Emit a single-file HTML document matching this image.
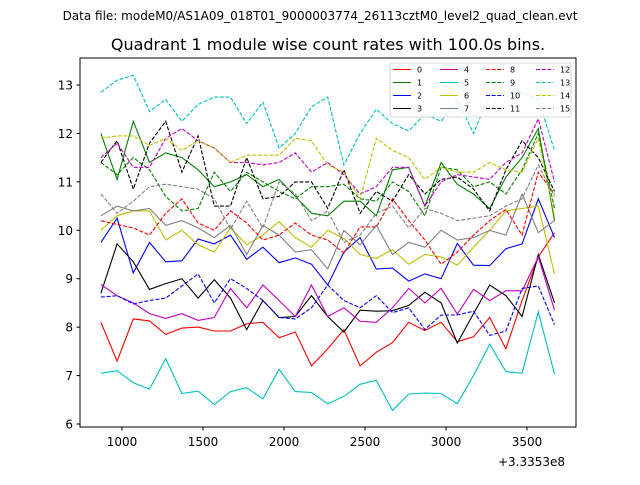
<!DOCTYPE html>
<html><head><meta charset="utf-8"><style>
body{margin:0;background:#fff}
svg text{font-family:"DejaVu Sans","Liberation Sans",sans-serif}
</style></head><body>
<svg id="chart" width="640" height="480" xmlns="http://www.w3.org/2000/svg">
<rect width="640" height="480" fill="#fff"/>
<text x="320" y="20" font-size="12" text-anchor="middle">Data file: modeM0/AS1A09_018T01_9000003774_26113cztM0_level2_quad_clean.evt</text>
<text x="328" y="50" font-size="16" text-anchor="middle">Quadrant 1 module wise count rates with 100.0s bins.</text>
<g id="plot"></g>
<rect x="80" y="58" width="496" height="369" fill="none" stroke="#000" stroke-width="1"/>
<g id="axes"></g>
<text x="565" y="466" font-size="12" text-anchor="end">+3.3353e8</text>
<g id="legend"></g>
</svg>
<script>
const xStart = 870, xStep = 100;
const xTicks = [1000,1500,2000,2500,3000,3500];
const yTicks = [6,7,8,9,10,11,12,13];
const colors = ['#f00','#008000','#00f','#000','#bf00bf','#00bfbf','#bfbf00','#808080','#f00','#008000','#00f','#000','#bf00bf','#00bfbf','#bfbf00','#808080'];
const s0 = [8.1,7.3,8.17,8.13,7.85,7.98,8.0,7.92,7.92,8.07,8.1,7.78,7.9,7.2,7.55,7.95,7.2,7.48,7.68,8.1,7.93,8.1,7.7,7.8,8.2,7.55,8.55,9.45,9.95];
const s1 = [12.0,11.05,12.25,11.4,11.6,11.5,11.25,10.9,11.0,11.15,10.9,11.05,10.7,10.35,10.3,10.6,10.6,10.3,11.25,11.3,10.5,11.4,10.95,10.75,10.45,11.1,11.5,12.1,10.2];
const s2 = [9.75,10.25,9.12,9.75,9.35,9.37,9.82,9.72,9.9,9.4,9.65,9.33,9.43,9.3,8.87,9.55,9.85,9.2,9.22,8.95,9.1,9.0,9.73,9.28,9.27,9.62,9.72,10.65,9.85];
const s3 = [8.7,9.72,9.35,8.78,8.9,9.0,8.6,8.98,8.6,7.95,8.55,8.2,8.22,8.65,8.22,7.9,8.35,8.33,8.34,8.45,8.72,8.5,7.67,8.28,8.87,8.65,8.22,9.5,8.5];
const s4 = [8.88,8.65,8.5,8.28,8.18,8.28,8.14,8.2,8.8,8.4,8.87,8.55,8.22,8.87,8.22,8.4,8.12,8.1,8.4,8.8,8.5,8.8,8.27,8.78,8.55,8.75,8.75,9.45,8.35];
const s5 = [7.05,7.1,6.85,6.72,7.35,6.63,6.68,6.4,6.67,6.75,6.52,7.13,6.67,6.65,6.42,6.57,6.82,6.9,6.28,6.62,6.64,6.63,6.42,7.0,7.65,7.08,7.05,8.32,7.03];
const s6 = [10.0,10.3,10.4,10.4,9.8,10.0,9.7,9.55,10.05,9.7,9.9,10.18,9.85,9.65,10.0,9.83,9.5,9.42,9.6,9.3,9.5,9.45,9.28,9.65,10.0,10.4,10.45,10.5,9.1];
const s7 = [10.3,10.5,10.4,10.45,10.1,10.2,10.05,9.85,10.1,9.5,10.1,9.9,9.55,9.6,9.2,10.0,9.7,10.1,9.5,9.75,9.65,10.0,9.8,9.85,10.0,9.9,10.75,9.95,10.2];
const s8 = [10.2,10.12,10.05,9.9,10.35,10.65,10.15,10.0,10.4,10.15,9.8,9.9,10.15,9.9,9.8,9.53,10.07,10.07,10.65,10.2,9.8,9.3,9.55,9.9,10.2,10.43,9.9,11.2,10.75];
const s9 = [11.4,11.15,11.5,11.25,10.7,10.4,10.45,11.2,10.8,11.2,11.0,10.8,10.65,10.9,10.9,10.95,10.65,10.6,11.0,10.8,10.3,11.3,11.25,10.9,11.0,10.75,11.25,12.0,10.45];
const s10 = [8.62,8.65,8.48,8.55,8.6,8.85,9.1,8.5,9.0,8.8,8.55,8.2,8.17,8.4,8.87,8.55,8.4,8.65,8.3,8.4,7.95,8.25,8.25,8.33,7.83,7.92,8.8,8.85,8.05];
const s11 = [11.4,11.85,10.85,11.8,12.25,11.2,11.95,10.5,10.5,11.5,10.65,10.7,11.0,11.0,10.45,11.25,10.35,10.8,10.6,11.15,10.75,11.05,11.1,10.85,10.4,11.25,11.85,11.5,10.8];
const s12 = [11.5,11.8,11.3,11.3,11.9,12.1,11.85,11.7,11.4,11.4,11.35,11.4,11.6,11.2,11.4,11.15,10.75,10.9,11.3,11.3,10.5,11.0,11.15,11.1,11.05,11.4,11.6,12.3,11.0];
const s13 = [12.85,13.1,13.2,12.45,12.7,12.25,12.6,12.75,12.75,12.2,12.65,11.7,12.0,12.55,12.75,11.35,12.0,12.5,12.2,12.05,12.4,12.25,12.7,12.0,12.8,12.85,12.85,12.7,11.65];
const s14 = [11.9,11.95,11.95,11.75,11.9,11.65,11.85,11.7,11.4,11.55,11.55,11.55,11.9,11.85,11.35,11.2,10.65,11.9,11.65,11.5,11.05,11.3,11.2,11.2,11.4,11.25,11.2,11.9,10.3];
const s15 = [10.75,10.35,10.6,10.9,10.95,10.9,10.85,10.65,10.02,10.6,10.05,11.0,10.75,10.2,10.4,9.75,9.9,10.35,10.5,10.05,10.45,10.35,10.2,10.25,10.3,10.5,10.65,11.35,10.7];
const series = [s0,s1,s2,s3,s4,s5,s6,s7,s8,s9,s10,s11,s12,s13,s14,s15];
const NS='http://www.w3.org/2000/svg';
function xs(v){return 122 + (v-1000)*0.162;}
function ys(v){return 85 + (13-v)*48.43;}
function mk(tag,attrs,parent){const e=document.createElementNS(NS,tag);for(const k in attrs)e.setAttribute(k,attrs[k]);parent.appendChild(e);return e;}
const plot=document.getElementById('plot'), axes=document.getElementById('axes'), legend=document.getElementById('legend');
series.forEach((s,k)=>{
  const pts=s.map((v,i)=>xs(xStart+i*xStep).toFixed(1)+','+ys(v).toFixed(1)).join(' ');
  const a={points:pts,fill:'none',stroke:colors[k],'stroke-width':1.1};
  if(k>=8)a['stroke-dasharray']='4,1.7';
  const pl=mk('polyline',a,plot);
  
  
});
xTicks.forEach(t=>{
  const x=xs(t);
  const l=mk('line',{x1:x,x2:x,y1:427,y2:430.5,stroke:'#000'},axes);
  
  
  const tx=mk('text',{x:x,y:446,'font-size':12,'text-anchor':'middle'},axes);
  tx.textContent=t;
  
  
});
yTicks.forEach(t=>{
  const y=ys(t);
  const l=mk('line',{x1:76.5,x2:80,y1:y,y2:y,stroke:'#000'},axes);
  
  
  const tx=mk('text',{x:73,y:y+4.5,'font-size':12,'text-anchor':'end'},axes);
  tx.textContent=t;
  
  
});
const lb=mk('rect',{x:390,y:63,width:181,height:54,rx:2,fill:'#fff','fill-opacity':0.85,stroke:'#ccc','stroke-width':0.8},legend);


const colX=[393,440,486,536];
for(let k=0;k<16;k++){
  const c=Math.floor(k/4), r=k%4, y=69.5+r*13;
  const g=mk('g',{},legend);
  
  
  const a={x1:colX[c],x2:colX[c]+18,y1:y,y2:y,stroke:colors[k],'stroke-width':1.1};
  if(k>=8)a['stroke-dasharray']='4,1.7';
  mk('line',a,g);
  const t=mk('text',{x:colX[c]+24,y:y+3,'font-size':8},g);
  t.textContent=k;
}
</script>
</body></html>
